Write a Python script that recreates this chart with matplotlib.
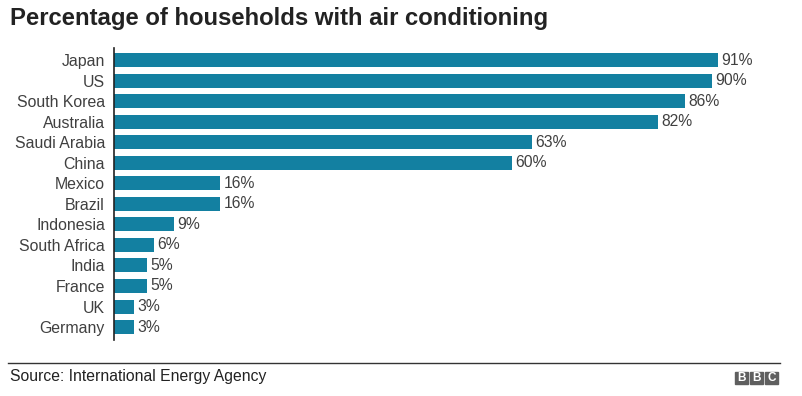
import matplotlib.pyplot as plt
from matplotlib.patches import Rectangle

countries = ['Japan', 'US', 'South Korea', 'Australia', 'Saudi Arabia', 'China',
             'Mexico', 'Brazil', 'Indonesia', 'South Africa', 'India', 'France',
             'UK', 'Germany']
share = [91, 90, 86, 82, 63, 60, 16, 16, 9, 6, 5, 5, 3, 3]

plt.rcParams['font.family'] = ['Liberation Sans', 'DejaVu Sans']

W, H = 803, 396
fig = plt.figure(figsize=(W / 100, H / 100), dpi=100)

# axes placed in pixel terms
left, right, top, bottom = 114, 778, 48, 340
ax = fig.add_axes([left / W, 1 - bottom / H, (right - left) / W, (bottom - top) / H])

ypos = list(range(len(countries)))
ax.barh(ypos, share, height=0.68, color='#1380A1')
for y, v in zip(ypos, share):
    ax.text(v + 0.5, y, f'{v}%', va='center', ha='left', fontsize=11.3, color='#404040')

ax.set_xlim(0, 100)
ax.set_ylim(13.63, -0.585)
ax.set_yticks(ypos)
ax.set_yticklabels(countries, fontsize=11.4, color='#404040')
ax.set_xticks([])
ax.tick_params(axis='y', length=0, pad=6.5)
for s in ['top', 'right', 'bottom']:
    ax.spines[s].set_visible(False)
ax.spines['left'].set_color('#222222')
ax.spines['left'].set_linewidth(1.2)

fig.text(10 / W, 1 - 19 / H, 'Percentage of households with air conditioning',
         fontsize=17.2, fontweight='bold', color='#222222', va='center', ha='left')

# footer
fig.add_artist(plt.Line2D([8 / W, 780 / W], [1 - 363 / H, 1 - 363 / H],
                          color='#333333', linewidth=1))
fig.text(10 / W, 1 - 377 / H, 'Source: International Energy Agency',
         fontsize=11.3, color='#222222', va='center', ha='left')

# BBC logo blocks
bw, gap = 13, 2
x0 = 735
for i, ch in enumerate('BBC'):
    x = x0 + i * (bw + gap)
    fig.add_artist(Rectangle((x / W, 1 - 384 / H), bw / W, 12 / H,
                             color='#5f5f5f', transform=fig.transFigure))
    fig.text((x + bw / 2) / W, 1 - 378 / H, ch, color='white', fontsize=8.5,
             fontweight='bold', ha='center', va='center')

fig.savefig('out.png', dpi=100)
